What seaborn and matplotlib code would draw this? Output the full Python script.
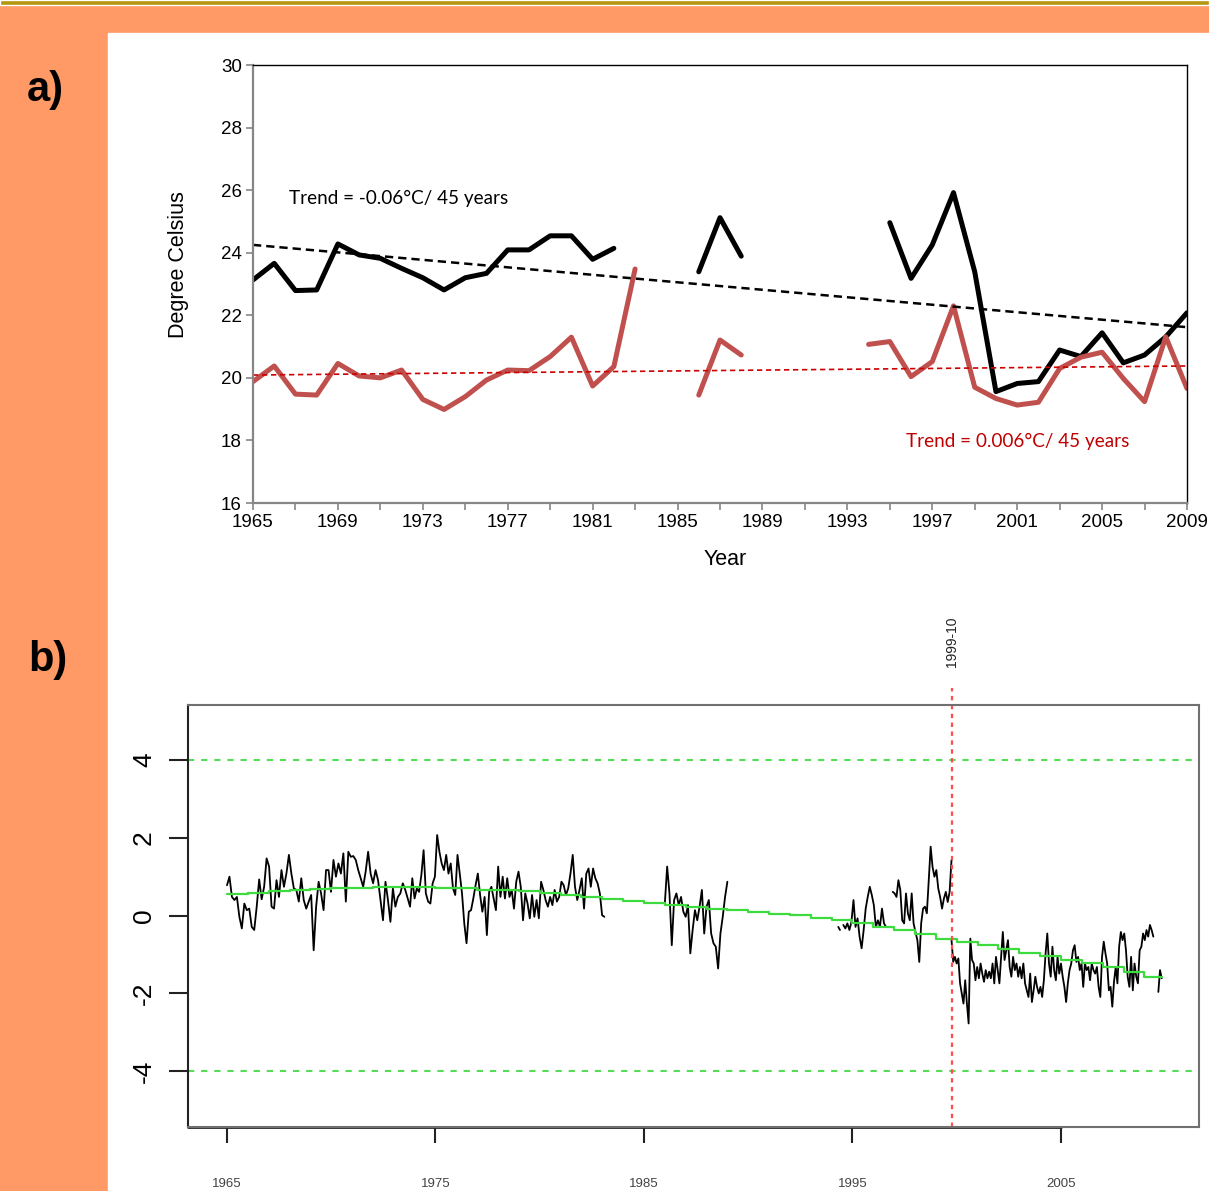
import numpy as np
import pandas as pd
import matplotlib
matplotlib.use("Agg")
import matplotlib.pyplot as plt
import matplotlib.transforms as mtransforms
from matplotlib.patches import Rectangle
import seaborn as sns

# ---------------- panel a : yearly series ----------------
years = list(range(1965, 2010))
black_series = [23.13, 23.66, 22.79, 22.81, 24.28, 23.93, 23.82, 23.50, 23.20, 22.81,
                23.20, 23.34, 24.09, 24.09, 24.54, 24.54, 23.79, 24.14, None, None,
                None, 23.39, 25.12, 23.89, None, None, None, None, None, None,
                24.96, 23.18, 24.25, 25.92, 23.39, 19.56, 19.82, 19.88, 20.89, 20.68,
                21.44, 20.48, 20.73, 21.31, 22.08]
red_series = [19.88, 20.38, 19.48, 19.45, 20.46, 20.06, 20.00, 20.25, 19.31, 18.99,
              19.40, 19.93, 20.25, 20.23, 20.68, 21.30, 19.74, 20.36, 23.48, None,
              None, 19.45, 21.21, 20.73, None, None, None, None, None, 21.07,
              21.16, 20.04, 20.52, 22.30, 19.70, 19.34, 19.13, 19.22, 20.30, 20.66,
              20.82, 19.98, 19.24, 21.31, 19.66]
trend_years = [1965, 2009]
trend_black = [24.25, 21.62]
trend_red = [20.09, 20.38]

# ---------------- panel b : monthly anomalies ----------------
anom_1965 = [0.78, 1.00, 0.48, 0.40, 0.48, -0.03, -0.33, 0.31, 0.14, 0.18,
             -0.29, -0.37, 0.23, 0.93, 0.42, 0.74, 1.47, 1.26, 0.23, 0.18,
             0.91, 0.48, 1.17, 0.74, 1.08, 1.56, 1.08, 0.70, 0.66, 0.36,
             0.96, 0.40, 0.18, 0.36, 0.53, -0.89, 0.23, 0.87, 0.57, 0.14,
             1.17, 1.17, 0.61, 1.43, 1.00, 1.34, 1.08, 1.60, 0.36, 1.64,
             1.51, 1.53, 1.43, 1.17, 0.96, 0.74, 1.13, 1.64, 1.08, 0.83,
             1.17, 0.91, 0.40, -0.12, 0.87, 0.40, -0.16, 0.70, 0.23, 0.48,
             0.57, 0.83, 0.66, 0.44]
anom_1974 = [0.23, 0.96, 0.44, 0.70, 0.61, 1.04, 1.68, 0.57, 0.36, 0.31,
             0.83, 1.00, 2.07, 1.64, 1.34, 1.17, 1.56, 1.08, 1.34, 0.70,
             0.53, 1.56, 1.08, 0.57, -0.20, -0.71, 0.10, 0.14, 0.44, 0.78,
             1.08, 0.53, 0.10, 0.48, -0.50, 0.61, 0.74, 0.44, 0.14, 1.26,
             0.48, 1.00, 0.44, 0.96, 0.48, 0.66, 0.18, 0.87, 1.13, 0.74,
             -0.12, 0.57, 0.31, -0.07, 0.53, -0.03, 0.40, -0.07, 0.87, 0.66,
             0.40, 0.23, 0.48, 0.27, 0.66, 0.36, 0.48, 0.87, 0.78, 0.53,
             0.70, 1.08, 1.56, 0.74, 0.40, 0.66, 0.96, 0.18, 1.08, 1.21,
             0.74, 1.21, 0.96, 0.83, 0.57, 0.01, -0.03]
anom_1986 = [0.31, 1.26, 0.57, -0.76, 0.40, 0.57, 0.27, 0.48, 0.10, -0.03,
             0.27, -0.97, -0.37, 0.14, -0.12, 0.23, 0.66, -0.46, 0.23, 0.40,
             -0.46, -0.71, -0.80, -1.36, -0.46, -0.03, 0.48, 0.87]
anom_1994a = [-0.29, -0.37]
anom_1994b = [-0.24, -0.33, -0.20, -0.37, -0.16, 0.40, -0.29, -0.07, -0.54, -0.84,
              -0.37, 0.18, 0.48, 0.74, 0.53, 0.27, -0.29, -0.12, -0.29, 0.18,
              -0.20, -0.29]
anom_1997 = [0.61, 0.57, 0.48, 0.91, 0.66, -0.12, -0.20, 0.57, 0.06, -0.12,
             0.57, -0.20, -0.42, -0.63, -1.19, -0.20, 0.18, 0.23, 0.06, 0.91,
             1.77, 1.25, 1.00, 1.17, 0.70, 0.48, 0.18, 0.44, 0.61, 0.35,
             0.61, 1.43]
anom_1999 = [-0.63, -1.19, -1.06, -1.23, -1.10, -1.74, -2.00, -2.26, -1.66, -2.26,
             -2.77, -0.59, -1.14, -1.23, -1.66, -1.32, -1.61, -1.23, -1.49, -1.70,
             -1.40, -1.61, -1.44, -1.61, -1.23, -1.74, -1.06, -1.40, -1.74, -1.06,
             -0.42, -1.14, -0.89, -0.63, -1.32, -1.57, -1.06, -1.40, -1.23, -1.57,
             -1.32, -1.61, -1.23, -1.74, -1.92, -2.09, -1.49, -2.22, -1.92, -1.57,
             -1.83, -2.00, -1.83, -2.09, -1.66, -0.97, -0.46, -1.23, -1.57, -0.80,
             -1.40, -1.66, -1.06, -1.49, -1.23, -1.57, -1.83, -2.22, -1.74, -1.40,
             -1.23, -0.89, -0.76, -1.19, -1.06, -1.40, -1.23, -1.83, -1.23, -1.40,
             -1.32, -1.66, -1.23, -1.40, -1.49, -1.32, -1.83, -2.09, -1.06, -0.67,
             -0.97, -1.23, -1.92, -1.83, -2.34, -1.70, -1.32, -1.74, -0.80, -0.42,
             -0.63, -0.46, -0.89, -1.57, -1.83, -1.06, -1.92, -1.23, -1.57, -1.74,
             -0.89, -0.80, -0.46, -0.63, -0.37, -0.54, -0.24, -0.37, -0.54]
anom_2009 = [-1.96, -1.40, -1.61]
# (start, end, values, line id)
anom_pieces = [(1965.0, 1973.67, anom_1965, 1), (1973.78, 1983.1, anom_1974, 1),
               (1986.0, 1989.0, anom_1986, 2), (1994.32, 1994.40, anom_1994a, 3),
               (1994.56, 1996.61, anom_1994b, 4), (1996.93, 1999.75, anom_1997, 5),
               (1999.75, 2009.43, anom_1999, 6), (2009.67, 2009.83, anom_2009, 7)]
trend_levels = [0.55, 0.59, 0.62, 0.65, 0.68, 0.70, 0.72, 0.73, 0.74, 0.74,
                0.72, 0.70, 0.67, 0.65, 0.62, 0.58, 0.53, 0.47, 0.42, 0.37,
                0.32, 0.27, 0.23, 0.18, 0.14, 0.10, 0.05, 0.01, -0.05, -0.12,
                -0.20, -0.29, -0.36, -0.46, -0.59, -0.67, -0.76, -0.85, -0.96, -1.04,
                -1.13, -1.21, -1.33, -1.44, -1.57]
trend_end = 2009.83
break_date = 1999.75
break_label = "1999-10"


def yearly_frame(x, y):
    df = pd.DataFrame({"x": x, "y": pd.Series(y, dtype="float")})
    df["seg"] = df["y"].isna().cumsum()
    return df.dropna()


sns.set_style("white")
plt.rcParams["font.family"] = ["Liberation Sans", "DejaVu Sans"]
plt.rcParams["text.color"] = "black"
plt.rcParams["axes.labelcolor"] = "black"
plt.rcParams["xtick.color"] = "black"
plt.rcParams["ytick.color"] = "black"

W, H = 1209, 1191
fig = plt.figure(figsize=(W / 100, H / 100), dpi=100, facecolor="#FF9966")
fig.patches.append(Rectangle((108 / W, 0), 1 - 108 / W, 1 - 33 / H,
                             transform=fig.transFigure, facecolor="white", zorder=-5))
fig.patches.append(Rectangle((0, 1 - 5 / H), 1, 5 / H, transform=fig.transFigure,
                             facecolor="#B5960F", zorder=-5))
fig.text(45 / W, 1 - 90 / H, "a)", fontsize=30, fontweight="bold", ha="center",
         va="center", color="black")
fig.text(48 / W, 1 - 660 / H, "b)", fontsize=30, fontweight="bold", ha="center",
         va="center", color="black")

# ---------- panel a ----------
ax1 = fig.add_axes([253 / W, 1 - 503 / H, 934 / W, 438 / H])
ax1.set_facecolor("white")
sns.lineplot(data=yearly_frame(years, black_series), x="x", y="y", units="seg",
             estimator=None, color="black", lw=3.6, ax=ax1, legend=False)
sns.lineplot(data=yearly_frame(years, red_series), x="x", y="y", units="seg",
             estimator=None, color="#C0504D", lw=3.6, ax=ax1, legend=False)
ax1.plot(trend_years, trend_black, color="black", lw=1.8, linestyle=(0, (3.3, 2.0)))
ax1.plot(trend_years, trend_red, color="#CC0000", lw=1.2, linestyle=(0, (3.2, 2.2)))
ax1.text(1966.7, 25.75, "Trend = -0.06°C/ 45 years", fontsize=13.6, family="Lato",
         color="black", va="center")
ax1.text(1995.75, 17.97, "Trend = 0.006°C/ 45 years", fontsize=13.6, family="Lato",
         color="#C00000", va="center")
ax1.set_xlim(1965, 2009)
ax1.set_ylim(16, 30)
ax1.set_xticks(range(1965, 2010, 2))
ax1.set_xticklabels([str(y) if (y - 1965) % 4 == 0 else "" for y in range(1965, 2010, 2)])
ax1.set_yticks(range(16, 31, 2))
ax1.tick_params(direction="out", length=5, width=1.2, color="#868686",
                labelsize=13.5, pad=3, labelcolor="black", bottom=True, left=True)
for side in ["left", "bottom"]:
    ax1.spines[side].set_color("#868686")
    ax1.spines[side].set_linewidth(1.6)
for side in ["top", "right"]:
    ax1.spines[side].set_color("black")
    ax1.spines[side].set_linewidth(1.0)
ax1.set_ylabel("Degree Celsius", fontsize=15.5)
ax1.set_xlabel("Year", fontsize=15.5)
ax1.yaxis.set_label_coords(-0.069, 0.545)
ax1.xaxis.set_label_coords(0.506, -0.105)

# ---------- panel b ----------
rows = []
for start, end, vals, uid in anom_pieces:
    for t, v in zip(np.linspace(start, end, len(vals)), vals):
        rows.append((t, v, uid))
anom = pd.DataFrame(rows, columns=["time", "value", "piece"])
trend = pd.DataFrame({"time": years + [trend_end], "value": trend_levels + [trend_levels[-1]]})

ax2 = fig.add_axes([188 / W, 1 - 1127 / H, 1011 / W, 422 / H])
ax2.set_facecolor("white")
ax2.axhline(4, color="#55DD55", lw=1.5, linestyle=(0, (3.0, 3.3)))
ax2.axhline(-4, color="#55DD55", lw=1.5, linestyle=(0, (3.0, 3.3)))
sns.lineplot(data=anom, x="time", y="value", units="piece", estimator=None,
             color="black", lw=1.3, ax=ax2, legend=False)
sns.lineplot(data=trend, x="time", y="value", color="#3DDB3D", lw=1.6,
             drawstyle="steps-post", ax=ax2, legend=False)
ax2.axvline(break_date, ymin=0, ymax=1.04, color="#FF4D4D", lw=1.6,
            linestyle=(0, (2, 2)), clip_on=False)
tr = mtransforms.blended_transform_factory(ax2.transData, ax2.transAxes)
ax2.text(break_date, 1.15, break_label, transform=tr, rotation=90, fontsize=10,
         ha="center", va="center", color="#222222")
ax2.set_xlim(1963.13, 2011.62)
ax2.set_ylim(-5.43, 5.41)
ax2.set_yticks([-4, -2, 0, 2, 4])
ax2.set_yticklabels(["-4", "-2", "0", "2", "4"], rotation=90, va="center")
ax2.set_xticks([1965, 1975, 1985, 1995, 2005])
ax2.tick_params(axis="y", direction="out", length=14, width=1.5, labelsize=19, pad=9,
                color="#222222", labelcolor="black", left=True)
ax2.tick_params(axis="x", direction="out", length=11.5, width=1.5, labelsize=9.5,
                pad=25, color="#222222", labelcolor="#444444", bottom=True)
for side in ax2.spines:
    ax2.spines[side].set_color("#707070")
    ax2.spines[side].set_linewidth(1.5)
ax2.spines["left"].set_color("#222222")
ax2.plot([1963.13, 2005], [-5.43, -5.43], color="#222222", lw=2.0, clip_on=False)
ax2.set_xlabel("")
ax2.set_ylabel("")

fig.savefig("out.png", dpi=100, facecolor=fig.get_facecolor())
